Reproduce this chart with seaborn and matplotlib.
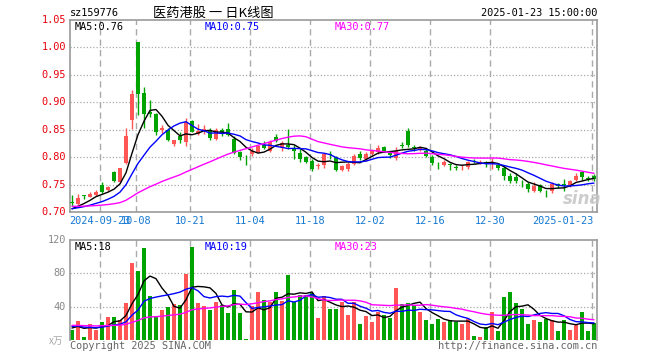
import numpy as np
import pandas as pd
import matplotlib
matplotlib.use("Agg")
import matplotlib.pyplot as plt
import seaborn as sns

# ---------------- data ----------------
opens = [0.718, 0.714, 0.7305, 0.728, 0.731, 0.750, 0.740, 0.773, 0.755, 0.790,
         0.867, 1.009, 0.917, 0.882, 0.878, 0.850, 0.850, 0.824, 0.839, 0.828,
         0.866, 0.843, 0.847, 0.849, 0.833, 0.849, 0.851, 0.833, 0.810, 0.797,
         0.806, 0.810, 0.822, 0.812, 0.837, 0.817, 0.822, 0.817, 0.808, 0.800,
         0.793, 0.783, 0.785, 0.805, 0.800, 0.777, 0.778, 0.788, 0.806, 0.796,
         0.806, 0.810, 0.818, 0.808, 0.799, 0.822, 0.847, 0.818, 0.814, 0.812,
         0.800, 0.786, 0.785, 0.788, 0.782, 0.783, 0.782, 0.795, 0.790, 0.792,
         0.787, 0.786, 0.780, 0.765, 0.764, 0.753, 0.751, 0.739, 0.749, 0.735,
         0.739, 0.751, 0.750, 0.749, 0.759, 0.773, 0.762, 0.765]
closes = [0.717, 0.725, 0.729, 0.732, 0.737, 0.737, 0.746, 0.756, 0.780, 0.838,
          0.915, 0.915, 0.879, 0.879, 0.846, 0.854, 0.832, 0.831, 0.831, 0.864,
          0.846, 0.847, 0.852, 0.835, 0.849, 0.845, 0.840, 0.808, 0.801, 0.796,
          0.812, 0.820, 0.817, 0.828, 0.830, 0.826, 0.819, 0.811, 0.796, 0.792,
          0.779, 0.786, 0.805, 0.803, 0.777, 0.783, 0.788, 0.802, 0.799, 0.806,
          0.812, 0.817, 0.812, 0.804, 0.812, 0.821, 0.822, 0.817, 0.818, 0.802,
          0.790, 0.785, 0.791, 0.785, 0.781, 0.784, 0.791, 0.794, 0.792, 0.787,
          0.789, 0.780, 0.765, 0.757, 0.757, 0.752, 0.742, 0.747, 0.739, 0.734,
          0.751, 0.747, 0.749, 0.757, 0.765, 0.764, 0.761, 0.760]
highs = [0.731, 0.733, 0.731, 0.736, 0.740, 0.755, 0.747, 0.775, 0.781, 0.854,
         0.923, 1.010, 0.927, 0.905, 0.881, 0.859, 0.854, 0.832, 0.845, 0.871,
         0.868, 0.860, 0.859, 0.853, 0.854, 0.854, 0.863, 0.839, 0.812, 0.804,
         0.816, 0.822, 0.829, 0.831, 0.843, 0.829, 0.851, 0.822, 0.814, 0.802,
         0.796, 0.790, 0.808, 0.812, 0.802, 0.786, 0.792, 0.805, 0.812, 0.809,
         0.815, 0.822, 0.820, 0.812, 0.818, 0.828, 0.854, 0.822, 0.821, 0.815,
         0.803, 0.791, 0.794, 0.789, 0.786, 0.788, 0.793, 0.797, 0.794, 0.793,
         0.799, 0.789, 0.783, 0.771, 0.771, 0.759, 0.755, 0.755, 0.751, 0.740,
         0.755, 0.753, 0.761, 0.759, 0.771, 0.775, 0.765, 0.769]
lows = [0.711, 0.712, 0.724, 0.727, 0.730, 0.734, 0.739, 0.754, 0.752, 0.787,
        0.852, 0.877, 0.853, 0.873, 0.840, 0.844, 0.829, 0.820, 0.826, 0.820,
        0.845, 0.840, 0.843, 0.831, 0.831, 0.839, 0.838, 0.805, 0.795, 0.786,
        0.802, 0.808, 0.814, 0.810, 0.828, 0.812, 0.815, 0.797, 0.792, 0.790,
        0.774, 0.779, 0.780, 0.797, 0.774, 0.775, 0.775, 0.786, 0.794, 0.793,
        0.802, 0.806, 0.810, 0.799, 0.795, 0.816, 0.818, 0.811, 0.811, 0.800,
        0.785, 0.779, 0.783, 0.777, 0.777, 0.776, 0.779, 0.790, 0.788, 0.782,
        0.779, 0.777, 0.758, 0.753, 0.753, 0.745, 0.736, 0.736, 0.737, 0.727,
        0.735, 0.744, 0.739, 0.746, 0.757, 0.759, 0.757, 0.756]
volumes = [12.4, 23, 4, 19.5, 12.4, 22, 28, 28, 24.3, 44.7,
           92.5, 83, 110.4, 53, 29, 36.3, 40, 43.5, 42.3, 79.3,
           111.6, 44.7, 41, 36.3, 45.8, 42.3, 32.7, 60.2, 32.7, 1.2,
           41, 57.8, 48.2, 45.8, 57.8, 47, 78.5, 45.8, 54, 54,
           56, 26.3, 53, 37.5, 37.5, 46, 30, 46, 19.5, 29,
           22, 34, 30, 26.7, 62.6, 43.5, 44.7, 42.3, 34, 24.3,
           19.5, 25.5, 22, 24.3, 22, 19.5, 25.5, 5.2, 4, 16,
           34, 11.2, 51.8, 57.8, 44.7, 37.5, 19.5, 24.3, 22, 25.5,
           24.3, 11.2, 24.3, 12.4, 19.5, 34, 11.2, 20.7]
# estimated sessions before the visible window (only feed the moving averages)
pre_close = [0.725, 0.722, 0.718, 0.716, 0.714, 0.712, 0.715, 0.717, 0.713, 0.710,
             0.708, 0.711, 0.713, 0.709, 0.706, 0.707, 0.710, 0.712, 0.708, 0.705,
             0.707, 0.709, 0.706, 0.704, 0.705, 0.702, 0.704, 0.703, 0.703]
pre_volume = [20, 16, 22, 18, 15, 19, 24, 17, 14, 21,
              18, 16, 20, 19, 17, 15, 22, 18, 16, 15,
              17, 19, 21, 16, 18, 13, 16, 15, 15.6]
holidays = ["2024-09-16", "2024-09-17", "2024-10-01", "2024-10-02", "2024-10-03",
            "2024-10-04", "2024-10-07", "2025-01-01"]
tick_dates = ["2024-09-23", "2024-10-08", "2024-10-21", "2024-11-04", "2024-11-18",
              "2024-12-02", "2024-12-16", "2024-12-30", "2025-01-23"]
tick_labels = ["2024-09-23", "10-08", "10-21", "11-04", "11-18",
               "12-02", "12-16", "12-30", "2025-01-23"]
price_ticks = [0.70, 0.75, 0.80, 0.85, 0.90, 0.95, 1.00, 1.05]
volume_ticks = [40, 80, 120]
title_code = "sz159776"
title_name = "医药港股 一 日K线图"
title_time = "2025-01-23 15:00:00"
price_ma_text = ["MA5:0.76", "MA10:0.75", "MA30:0.77"]
volume_ma_text = ["MA5:18", "MA10:19", "MA30:23"]

# ---------------- derived ----------------
days = pd.bdate_range("2024-09-12", "2025-01-23")
days = days[~days.isin(pd.to_datetime(holidays))]
n = len(closes)
idx = np.arange(n)
df = pd.DataFrame({"i": idx, "open": opens, "close": closes, "high": highs,
                   "low": lows, "vol": volumes})
full_c = pd.Series(pre_close + closes)
full_v = pd.Series(pre_volume + volumes)
k = len(pre_close)
for w in (5, 10, 30):
    df[f"ma{w}"] = full_c.rolling(w, min_periods=1).mean().values[k:]
    df[f"vma{w}"] = full_v.rolling(w, min_periods=1).mean().values[k:]
tick_pos = [int(np.where(days == pd.Timestamp(d))[0][0]) for d in tick_dates]

RED = "#ff5555"
GREEN = "#00a400"
up = df["close"] >= df["open"]
colors = [RED if u else GREEN for u in up]
mono = "DejaVu Sans Mono"

sns.set_theme(style="white")
plt.rcParams["font.family"] = [mono, "Noto Sans CJK SC"]

fig = plt.figure(figsize=(6.6, 3.6), dpi=100)
W, H = 660, 360
def axrect(l, t, r, b):
    return [l / W, 1 - b / H, (r - l) / W, (b - t) / H]

ax = fig.add_axes(axrect(70, 20, 597, 212))
axv = fig.add_axes(axrect(70, 240, 597, 340))

xlim = (-0.33, 87.5)
grid_c = "#aaaaaa"
for a in (ax, axv):
    a.set_xlim(*xlim)
    a.set_facecolor("white")
    for s in a.spines.values():
        s.set_color("#999999")
        s.set_linewidth(1.2)
    a.set_xticks([])
    a.set_yticks([])
    for p in tick_pos:
        a.axvline(p - 0.3, color=grid_c, lw=1, ls=(0, (4.5, 3)), zorder=0)
axv.spines["bottom"].set_visible(False)

# price panel
ax.set_ylim(0.70, 1.05)
for t in price_ticks[1:-1]:
    ax.axhline(t, color=grid_c, lw=0.9, ls=(0, (1, 1.6)), zorder=0)
body = np.maximum(np.abs(df["close"] - df["open"]), 0.0014)
ax.vlines(df["i"], df["low"], df["high"], colors=colors, lw=1, zorder=2)
ax.bar(df["i"], body, bottom=np.minimum(df["open"], df["close"]), width=0.75,
       color=colors, linewidth=0, zorder=3)
for col, c in (("ma5", "black"), ("ma10", "#0000ff"), ("ma30", "#ff00ff")):
    sns.lineplot(data=df, x="i", y=col, ax=ax, color=c, lw=1, zorder=4)
ax.set_xlabel("")
ax.set_ylabel("")

# volume panel
axv.set_ylim(0, 120)
for t in volume_ticks[:-1]:
    axv.axhline(t, color=grid_c, lw=0.9, ls=(0, (1, 1.6)), zorder=0)
axv.bar(df["i"], df["vol"], width=0.82, color=colors, linewidth=0, zorder=2)
for col, c in (("vma5", "black"), ("vma10", "#0000ff"), ("vma30", "#ff00ff")):
    sns.lineplot(data=df, x="i", y=col, ax=axv, color=c, lw=1, zorder=4)
axv.set_xlabel("")
axv.set_ylabel("")

fs = 7.4
# y labels
for t in price_ticks:
    fig.text(66 / W, 1 - (212 - (t - 0.70) / 0.35 * 192) / H, f"{t:.2f}",
             ha="right", va="center", color="#e8000b", fontsize=fs, family=mono)
for t in volume_ticks:
    fig.text(66 / W, 1 - (340 - t / 120 * 100) / H, f"{t}",
             ha="right", va="center", color="#888888", fontsize=fs, family=mono)
fig.text(63 / W, 1 - 341 / H, "x万", ha="right", va="center", color="#aaaaaa",
         fontsize=7, family=["Noto Sans CJK SC"])

# x labels
for p, lab in zip(tick_pos, tick_labels):
    px = 72 + 6 * p - 2
    ha = "center"
    if lab == tick_labels[-1]:
        ha = "right"
        px += 1
    fig.text(px / W, 1 - 221 / H, lab, ha=ha, va="center", color="#1478d2",
             fontsize=fs, family=mono)

# titles
fig.text(70 / W, 1 - 13 / H, title_code, ha="left", va="center", color="black",
         fontsize=fs, family=mono)
fig.text(213 / W, 1 - 13 / H, title_name, ha="center", va="center", color="black",
         fontsize=9.5, family=["Noto Sans CJK SC"])
fig.text(597 / W, 1 - 13 / H, title_time, ha="right", va="center", color="black",
         fontsize=fs, family=mono)

# MA legends
for txt, c, x in zip(price_ma_text, ["black", "#0000ff", "#ff00ff"], [75, 205, 335]):
    fig.text(x / W, 1 - 26.5 / H, txt, ha="left", va="center", color=c, fontsize=fs, family=mono)
for txt, c, x in zip(volume_ma_text, ["black", "#0000ff", "#ff00ff"], [75, 205, 335]):
    fig.text(x / W, 1 - 246.5 / H, txt, ha="left", va="center", color=c, fontsize=fs, family=mono)

# footer
fig.text(70 / W, 1 - 346 / H, "Copyright 2025 SINA.COM", ha="left", va="center",
         color="#666666", fontsize=fs, family=mono)
fig.text(597 / W, 1 - 346 / H, "http://finance.sina.com.cn", ha="right", va="center",
         color="#666666", fontsize=fs, family=mono)

# watermark
fig.text(582 / W, 1 - 199 / H, "sina", ha="center", va="center", color="#c4c4c4",
         fontsize=12, fontweight="bold", style="italic", family="DejaVu Sans", alpha=0.85)

fig.savefig("out.png", dpi=100)
